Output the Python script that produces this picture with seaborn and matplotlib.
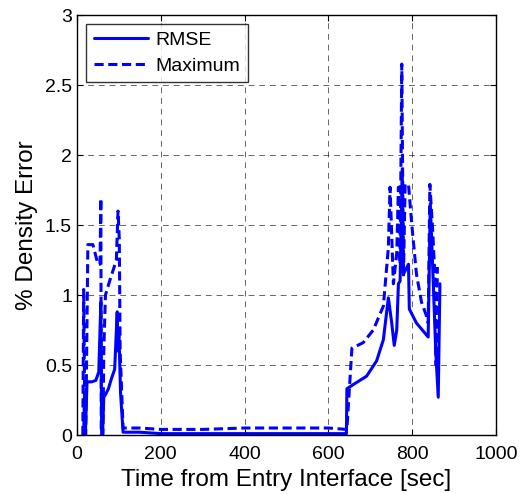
import numpy as np
import pandas as pd
import seaborn as sns
import matplotlib.pyplot as plt

# RMSE series (time in sec, % density error)
rmse_t = [16, 18, 20, 24, 35, 45, 52, 57, 59, 61, 64, 70, 75, 82, 90, 96, 98, 100, 104, 110,
          150, 200, 300, 400, 500, 600, 643, 644, 659, 691, 715, 731, 743, 751, 757, 763, 767,
          771, 776, 779, 791, 793, 810, 838, 843, 850, 856, 862, 866]
rmse_v = [0.0, 0.3, 0.0, 0.38, 0.38, 0.39, 0.45, 0.95, 0.0, 0.0, 0.27, 0.3, 0.33, 0.4, 0.47,
          0.88, 0.6, 0.75, 0.3, 0.02, 0.02, 0.01, 0.01, 0.01, 0.01, 0.01, 0.01, 0.33, 0.36,
          0.42, 0.53, 0.68, 0.98, 0.8, 0.64, 0.75, 1.08, 1.1, 1.9, 1.15, 1.22, 0.9, 0.8, 0.7,
          1.65, 1.1, 0.6, 0.27, 1.08]

# Maximum series
max_t = [14, 16, 19, 21, 26, 38, 50, 55, 57, 58, 62, 64, 68, 78, 94, 98, 101, 103, 110,
         150, 200, 300, 400, 500, 600, 643, 644, 656, 683, 707, 731, 743, 747, 755, 763, 767,
         771, 775, 779, 783, 791, 799, 810, 822, 834, 838, 842, 848, 853, 857, 860]
max_v = [0.0, 1.04, 0.0, 0.0, 1.36, 1.36, 1.22, 1.22, 1.69, 0.0, 0.0, 0.6, 1.0, 1.1, 1.25,
         1.6, 1.4, 0.6, 0.05, 0.05, 0.04, 0.04, 0.05, 0.05, 0.05, 0.04, 0.04, 0.62, 0.66, 0.75,
         0.92, 1.34, 1.77, 1.08, 1.3, 1.77, 1.22, 2.65, 1.13, 1.79, 1.79, 1.5, 1.15, 0.95,
         0.85, 0.8, 1.79, 1.5, 1.2, 0.5, 1.2]

rmse = pd.DataFrame({"t": rmse_t, "err": rmse_v})
mx = pd.DataFrame({"t": max_t, "err": max_v})

sns.set_style("white")
plt.rcParams["font.family"] = ["Liberation Sans", "DejaVu Sans"]
plt.rcParams["text.color"] = "black"
plt.rcParams["axes.labelcolor"] = "black"
plt.rcParams["xtick.color"] = "black"
plt.rcParams["ytick.color"] = "black"

fig = plt.figure(figsize=(5.2, 4.94), dpi=100)
ax = fig.add_axes([0.148, 0.1194, 0.806, 0.8502])

sns.lineplot(data=rmse, x="t", y="err", ax=ax, color="#0000ff", lw=2.2,
             sort=False, estimator=None, label="RMSE")
sns.lineplot(data=mx, x="t", y="err", ax=ax, color="#0000ff", lw=2.2,
             sort=False, estimator=None, label="Maximum", linestyle=(0, (3, 1.5)))

ax.set_xlim(0, 1000)
ax.set_ylim(0, 3)
ax.set_xticks(np.arange(0, 1001, 200))
ax.set_yticks(np.arange(0, 3.01, 0.5))
ax.set_yticklabels(["0", "0.5", "1", "1.5", "2", "2.5", "3"])
ax.grid(True, color="black", linestyle=(0, (6, 5)), linewidth=0.7, alpha=0.6)
ax.tick_params(labelsize=14, direction="in", length=4, bottom=True, left=True,
               top=True, right=True, colors="black")
ax.tick_params(axis="x", pad=8)
for s in ax.spines.values():
    s.set_color("black")
    s.set_linewidth(1.0)

ax.set_xlabel("Time from Entry Interface [sec]", fontsize=17.5, labelpad=4)
ax.set_ylabel("% Density Error", fontsize=17.5, labelpad=5)

leg = ax.legend(loc="upper left", fontsize=14, frameon=True, fancybox=False,
                edgecolor="black", handlelength=2.8, borderpad=0.4,
                labelspacing=0.4, handletextpad=0.4, borderaxespad=0,
                bbox_to_anchor=(0.021, 0.979))
leg.get_frame().set_linewidth(1.0)
for txt in leg.get_texts():
    txt.set_color("black")

fig.savefig("out.png", dpi=100)
